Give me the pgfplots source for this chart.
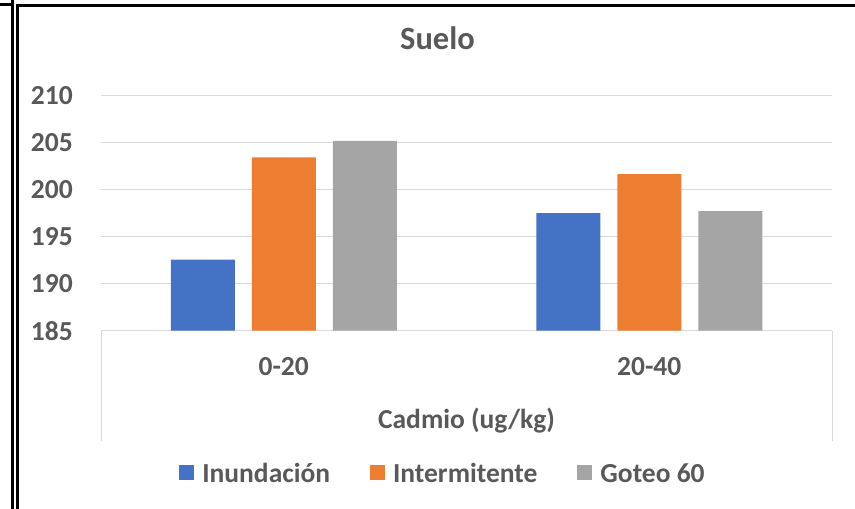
\documentclass[border=0pt]{standalone}
\usepackage{pgfplots}
\pgfplotsset{compat=1.18}
\usepackage{fontspec}
\setmainfont{Carlito}
\definecolor{cblue}{HTML}{4472C4}
\definecolor{corange}{HTML}{ED7D31}
\definecolor{cgray}{HTML}{A5A5A5}
\definecolor{ctext}{HTML}{595959}
\definecolor{cgrid}{HTML}{D9D9D9}
\begin{document}
\begin{tikzpicture}[x=1pt,y=1pt]
\useasboundingbox (0,0) rectangle (855,509);
% screenshot frame
\draw[black,line width=3pt] (12.5,0) -- (12.5,509);
\draw[black,line width=2.5pt] (0,504.5) -- (14,504.5);
\draw[black,line width=3pt] (17.5,0) -- (17.5,503.5);
\draw[black,line width=3pt] (16,503.5) -- (855,503.5);
\begin{axis}[
  name=ax,
  at={(101pt,178.3pt)}, anchor=south west,
  scale only axis, width=731pt, height=235pt,
  xmin=-0.5, xmax=1.5, ymin=185, ymax=210,
  ytick={185,190,...,210},
  xtick={0,1}, xticklabels={0-20,20-40},
  ymajorgrids, grid style={cgrid, line width=0.8pt},
  axis x line*=bottom, axis y line*=left,
  x axis line style={draw=cgrid, line width=0.8pt, -},
  y axis line style={draw=none},
  major x tick style={draw=none}, major y tick style={draw=none},
  font=\fontsize{27.5}{32}\selectfont\bfseries,
  every tick label/.append style={text=ctext},
  /pgf/number format/assume math mode=true,
  yticklabel style={anchor=east, inner sep=0pt, xshift=-28pt},
  xticklabel style={anchor=base, inner sep=0pt, yshift=-45pt},
  xlabel={Cadmio (ug/kg)},
  xlabel style={at={(axis description cs:0.5,0)}, anchor=base, inner sep=0pt, yshift=-98pt, text=ctext},
  title={Suelo},
  title style={at={(axis description cs:0.4603,1.17)}, anchor=base, inner sep=0pt, text=ctext, font=\fontsize{32.5}{38}\selectfont\bfseries},
  legend columns=3,
  legend style={draw=none, fill=none, at={(axis description cs:0.4665,-0.61)}, anchor=center,
     text=ctext, inner sep=0pt, nodes={inner sep=0pt},
     /tikz/every odd column/.append style={column sep=8pt},
     /tikz/every even column/.append style={column sep=40pt}},
  legend image code/.code={\fill[#1] (0pt,-5.5pt) rectangle (15pt,9.5pt);},
  clip=true,
]
\addplot[ybar, bar width=64pt, bar shift=-81pt, fill=cblue, draw=none] coordinates {(0,192.55) (1,197.5)};
\addlegendentry{Inundación}
\addplot[ybar, bar width=64pt, bar shift=0pt, fill=corange, draw=none] coordinates {(0,203.45) (1,201.67)};
\addlegendentry{Intermitente}
\addplot[ybar, bar width=64pt, bar shift=81pt, fill=cgray, draw=none] coordinates {(0,205.2) (1,197.73)};
\addlegendentry{Goteo 60}
\end{axis}
\draw[cgrid, line width=0.8pt] (ax.south west) -- ++(0,-110);
\draw[cgrid, line width=0.8pt] (ax.south east) -- ++(0,-110);
\end{tikzpicture}
\end{document}
